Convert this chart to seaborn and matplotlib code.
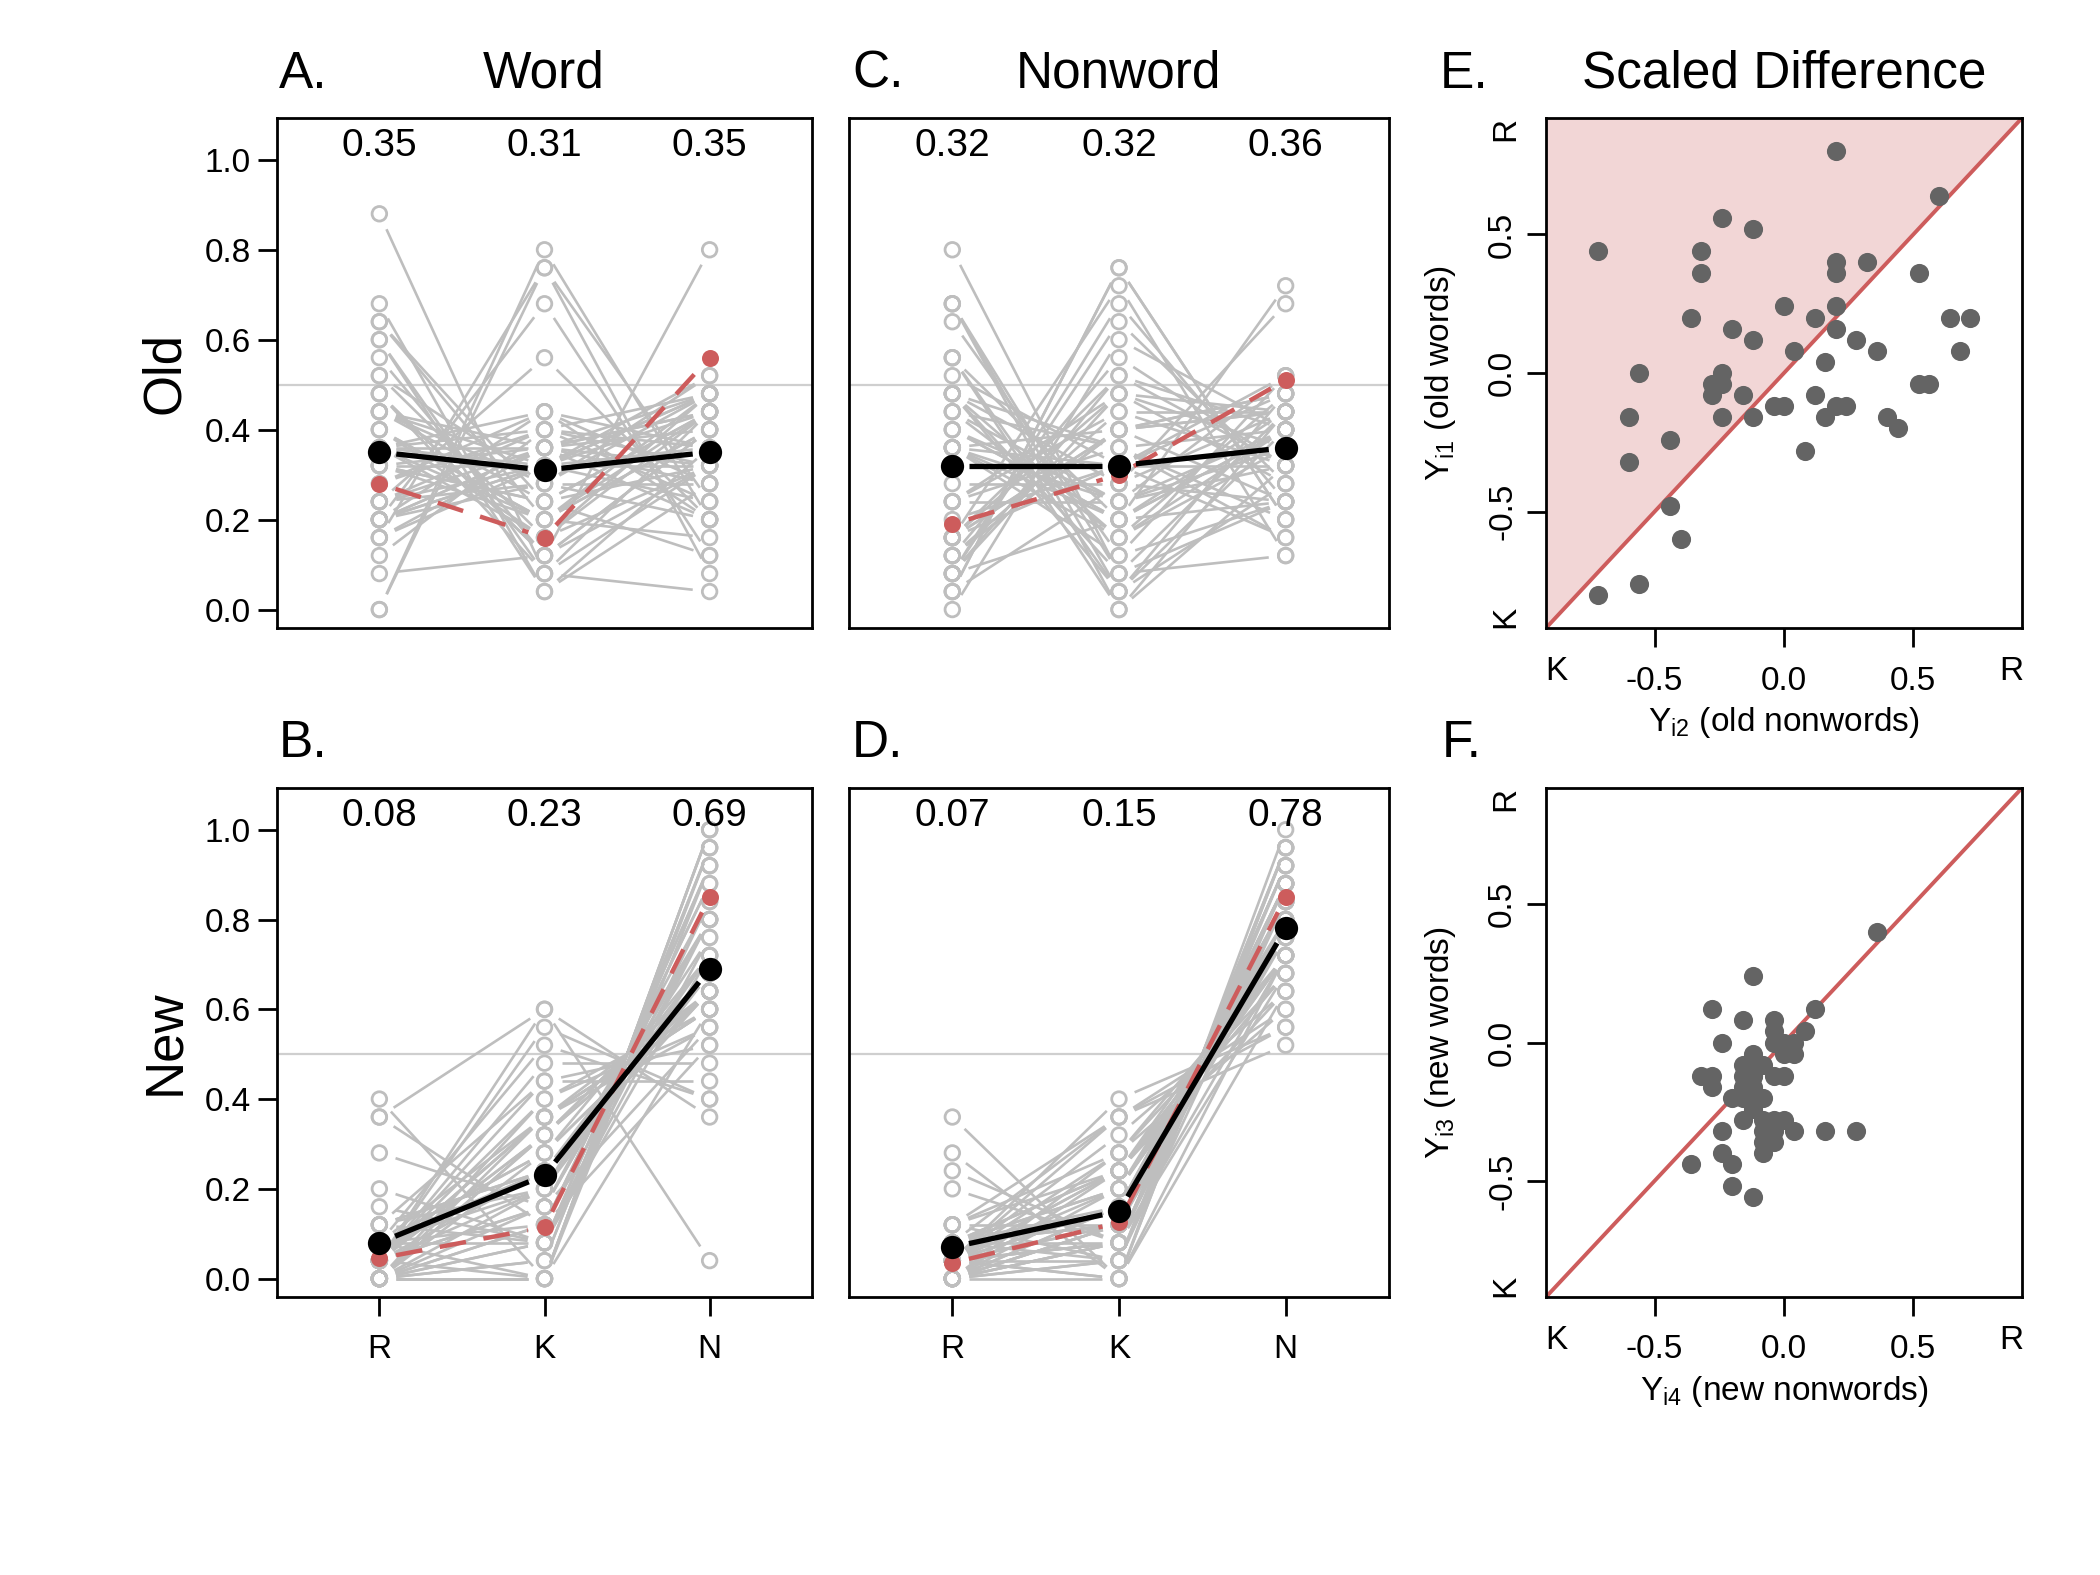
import numpy as np
import pandas as pd
import seaborn as sns
import matplotlib
matplotlib.use("Agg")
import matplotlib.pyplot as plt

sns.set_theme(style="ticks")
plt.rcParams["font.family"] = ["Liberation Sans", "DejaVu Sans"]
plt.rcParams["font.sans-serif"] = ["Liberation Sans"]
plt.rcParams["mathtext.fontset"] = "custom"
plt.rcParams["mathtext.rm"] = "Liberation Sans"
plt.rcParams["mathtext.it"] = "Liberation Sans:italic"
for key in ["text.color", "axes.labelcolor", "xtick.color", "ytick.color", "axes.edgecolor"]:
    plt.rcParams[key] = "black"

# ---- data ----
N_ITEMS = 25
responses = ["R", "K", "N"]
resp_pos = [1, 2, 3]

# counts of R and K answers per participant (out of 25 items), N is the rest
old_word_r = [16, 22, 17, 15, 15, 14, 13, 12, 12, 16, 12, 10, 11, 9, 13, 10, 10, 9, 11, 8,
              11, 8, 8, 11, 9, 8, 9, 6, 9, 6, 5, 9, 2, 8, 5, 7, 5, 6, 5, 7,
              4, 5, 6, 4, 5, 3, 6, 5, 4, 0, 0]
old_word_k = [5, 2, 1, 1, 2, 3, 4, 2, 3, 6, 3, 4, 6, 4, 7, 5, 5, 5, 7, 5,
              8, 6, 6, 9, 9, 8, 8, 7, 10, 8, 7, 11, 3, 9, 8, 10, 8, 9, 9, 11,
              8, 9, 10, 9, 11, 10, 14, 17, 19, 19, 20]

old_nonword_r = [1, 10, 17, 4, 5, 4, 3, 11, 10, 12, 16, 7, 4, 9, 13, 17, 20, 6, 9, 6,
                 11, 9, 14, 17, 2, 4, 9, 3, 6, 3, 4, 12, 14, 14, 9, 6, 12, 9, 0, 1,
                 2, 10, 12, 12, 3, 11, 2, 2, 2, 4, 1]
old_nonword_k = [19, 5, 2, 10, 8, 12, 11, 6, 5, 4, 3, 7, 13, 6, 8, 1, 2, 11, 4, 9,
                 4, 8, 5, 0, 16, 10, 5, 10, 12, 10, 8, 9, 1, 0, 10, 6, 7, 3, 15, 7,
                 5, 6, 2, 1, 14, 9, 17, 13, 12, 18, 19]

new_word_r = [10, 9, 7, 5, 4, 2, 1, 3, 0, 0, 2, 0, 0, 0, 2, 0, 0, 3, 0, 0,
              2, 3, 3, 1, 0, 2, 1, 2, 0, 2, 9, 0, 1, 1, 2, 0, 1, 1, 0, 3,
              1, 1, 0, 1, 0, 1, 2, 1, 1, 1, 1]
new_word_k = [0, 3, 4, 2, 2, 0, 0, 2, 0, 0, 2, 0, 1, 1, 3, 2, 2, 5, 3, 3,
              5, 6, 6, 4, 4, 6, 5, 7, 5, 7, 15, 7, 8, 8, 9, 8, 9, 9, 8, 11,
              9, 10, 9, 11, 10, 12, 13, 14, 15, 4, 6]

new_nonword_r = [9, 1, 0, 5, 2, 0, 1, 3, 1, 2, 0, 1, 1, 2, 0, 1, 2, 0, 1, 2,
                 0, 1, 1, 2, 1, 3, 0, 1, 0, 1, 3, 2, 1, 0, 3, 0, 2, 1, 1, 6,
                 7, 0, 2, 3, 1, 1, 0, 1, 2, 0, 0]
new_nonword_k = [0, 4, 7, 2, 6, 1, 2, 1, 7, 3, 0, 0, 1, 1, 3, 5, 5, 2, 9, 9,
                 4, 4, 2, 2, 8, 7, 3, 6, 4, 4, 6, 6, 3, 1, 3, 6, 4, 2, 0, 2,
                 0, 2, 3, 9, 3, 10, 5, 6, 5, 3, 2]

# group means (black) and model predictions (red dashed)
old_word_mean = [0.35, 0.31, 0.35]
old_nonword_mean = [0.32, 0.32, 0.36]
new_word_mean = [0.08, 0.23, 0.69]
new_nonword_mean = [0.07, 0.15, 0.78]

old_word_model = [0.28, 0.16, 0.56]
old_nonword_model = [0.19, 0.30, 0.51]
new_word_model = [0.045, 0.115, 0.85]
new_nonword_model = [0.035, 0.125, 0.85]

# ---- style ----
GRAY = "#BEBEBE"
LIGHT = "#CFCFCF"
RED = "#CD5C5C"
PINK = "#F2D6D6"
DOT = "#646464"
FRAME_LW = 2.0
TICK_LEN = 14
LABEL_FS = 24
NUM_FS = 28
TITLE_FS = 37

W, H = 2100, 1575


def rect(x0, x1, y0, y1):
    return [x0 / W, 1 - y1 / H, (x1 - x0) / W, (y1 - y0) / H]


def gap_line(ax, xs, ys, gap=17, **kw):
    # R style type="b": segments stop short of the points
    pts = ax.transData.transform(np.column_stack([xs, ys]))
    inv = ax.transData.inverted()
    for p, q in zip(pts[:-1], pts[1:]):
        d = q - p
        L = np.hypot(d[0], d[1])
        if L <= 2 * gap:
            continue
        u = d / L * gap
        seg = inv.transform(np.array([p + u, q - u]))
        ax.plot(seg[:, 0], seg[:, 1], solid_capstyle="butt", dash_capstyle="butt", **kw)


def frame(ax):
    for s in ax.spines.values():
        s.set_visible(True)
        s.set_linewidth(FRAME_LW)
        s.set_color("black")
    ax.tick_params(length=TICK_LEN, width=FRAME_LW, labelsize=LABEL_FS, color="black",
                   labelcolor="black")


def rkn_panel(ax, r_counts, k_counts, means, model, show_x, show_y):
    r = np.array(r_counts) / N_ITEMS
    k = np.array(k_counts) / N_ITEMS
    n = 1 - r - k
    ax.set_xlim(0.38, 3.62)
    ax.set_ylim(-0.041, 1.093)
    ax.axhline(0.5, color=LIGHT, lw=1.6, zorder=0)
    for i in range(len(r)):
        gap_line(ax, resp_pos, [r[i], k[i], n[i]], color=GRAY, lw=1.9, zorder=1)
    long = pd.DataFrame({"pos": np.repeat(resp_pos, len(r)),
                         "prop": np.concatenate([r, k, n])})
    sns.scatterplot(data=long, x="pos", y="prop", ax=ax, color="none",
                    edgecolor=GRAY, linewidth=2.0, s=110, zorder=2)
    gap_line(ax, resp_pos, model, color=RED, lw=3.2, dashes=(6, 4), zorder=3)
    ax.scatter(resp_pos, model, s=150, color=RED, linewidths=0, zorder=3)
    gap_line(ax, resp_pos, means, color="black", lw=3.8, zorder=4)
    ax.scatter(resp_pos, means, s=280, color="black", linewidths=0, zorder=4)
    for x, m in zip(resp_pos, means):
        ax.text(x, 1.03, f"{m:.2f}", ha="center", va="center", fontsize=NUM_FS)
    ax.set_xlabel("")
    ax.set_ylabel("")
    frame(ax)
    if show_x:
        ax.set_xticks(resp_pos)
        ax.set_xticklabels(responses)
        ax.tick_params(axis="x", pad=13)
    else:
        ax.set_xticks([])
    if show_y:
        ax.set_yticks(np.arange(0, 1.01, 0.2))
        ax.set_yticklabels([f"{v:.1f}" for v in np.arange(0, 1.01, 0.2)])
        ax.tick_params(axis="y", pad=5)
    else:
        ax.set_yticks([])


def diff_panel(ax, r_x, k_x, r_y, k_y, shade, xlabel, ylabel):
    xv = (np.array(r_x) - np.array(k_x)) / N_ITEMS
    yv = (np.array(r_y) - np.array(k_y)) / N_ITEMS
    lim = 0.92
    ax.set_xlim(-lim, lim)
    ax.set_ylim(-lim, lim)
    if shade:
        ax.fill_between([-lim, lim], [-lim, lim], lim, color=PINK, lw=0, zorder=0)
    ax.plot([-lim, lim], [-lim, lim], color=RED, lw=2.8, zorder=1)
    sns.scatterplot(x=xv, y=yv, ax=ax, color=DOT, s=190, linewidth=0, zorder=2)
    frame(ax)
    ticks = [-0.5, 0.0, 0.5]
    ax.set_xticks(ticks)
    ax.set_xticklabels([f"{t:.1f}" for t in ticks])
    ax.set_yticks(ticks)
    ax.set_yticklabels([f"{t:.1f}" for t in ticks], rotation=90, va="center")
    ax.tick_params(axis="x", pad=13)
    ax.tick_params(axis="y", pad=6)
    for v, lab in [(-0.88, "K"), (0.88, "R")]:
        ax.annotate(lab, xy=(v, 0), xycoords=("data", "axes fraction"),
                    xytext=(0, -31), textcoords="offset points",
                    ha="center", va="center", fontsize=LABEL_FS)
        ax.annotate(lab, xy=(0, v), xycoords=("axes fraction", "data"),
                    xytext=(-29, 0), textcoords="offset points", rotation=90,
                    ha="center", va="center", fontsize=LABEL_FS)
    ax.text(0.5, -0.185, xlabel, transform=ax.transAxes, ha="center", va="center",
            fontsize=LABEL_FS)
    ax.text(-0.222, 0.5, ylabel, transform=ax.transAxes, ha="center", va="center",
            rotation=90, fontsize=LABEL_FS)


fig = plt.figure(figsize=(21, 15.75), dpi=100)

axA = fig.add_axes(rect(277, 812, 118, 628))
axC = fig.add_axes(rect(849, 1389, 118, 628))
axE = fig.add_axes(rect(1546, 2022, 118, 628))
axB = fig.add_axes(rect(277, 812, 788, 1297))
axD = fig.add_axes(rect(849, 1389, 788, 1297))
axF = fig.add_axes(rect(1546, 2022, 788, 1297))

rkn_panel(axA, old_word_r, old_word_k, old_word_mean, old_word_model, False, True)
rkn_panel(axC, old_nonword_r, old_nonword_k, old_nonword_mean, old_nonword_model, False, False)
rkn_panel(axB, new_word_r, new_word_k, new_word_mean, new_word_model, True, True)
rkn_panel(axD, new_nonword_r, new_nonword_k, new_nonword_mean, new_nonword_model, True, False)

diff_panel(axE, old_nonword_r, old_nonword_k, old_word_r, old_word_k, True,
           r"Y$_{\mathrm{i2}}$ (old nonwords)", r"Y$_{\mathrm{i1}}$ (old words)")
diff_panel(axF, new_nonword_r, new_nonword_k, new_word_r, new_word_k, False,
           r"Y$_{\mathrm{i4}}$ (new nonwords)", r"Y$_{\mathrm{i3}}$ (new words)")

# titles and panel letters
for x, y, s in [(279, 74, "A."), (852, 74, "C."), (1440, 74, "E."),
                (279, 743, "B."), (852, 743, "D."), (1442, 743, "F.")]:
    fig.text(x / W, 1 - y / H, s, ha="left", va="center", fontsize=TITLE_FS)
for x, s in [(544, "Word"), (1119, "Nonword"), (1784, "Scaled Difference")]:
    fig.text(x / W, 1 - 74 / H, s, ha="center", va="center", fontsize=TITLE_FS)
fig.text(165 / W, 1 - 373 / H, "Old", rotation=90, ha="center", va="center", fontsize=38)
fig.text(165 / W, 1 - 1042 / H, "New", rotation=90, ha="center", va="center", fontsize=38)

fig.savefig("out.png", dpi=100, facecolor="white")
